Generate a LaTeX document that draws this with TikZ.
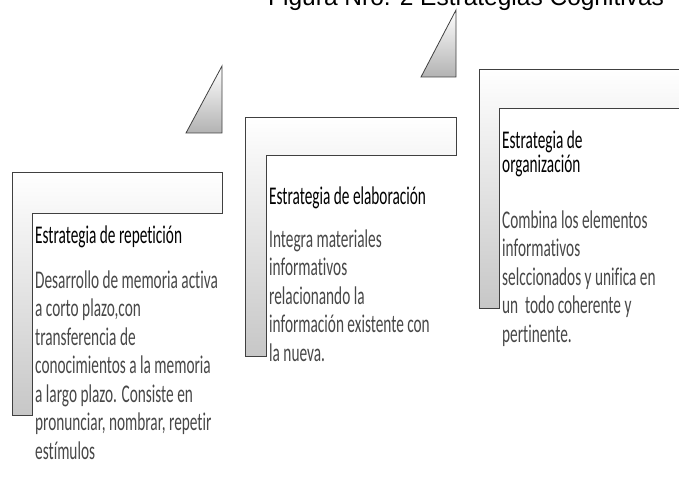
\documentclass[tikz,border=0pt]{standalone}
\usepackage{fontspec}
\newfontfamily\boxfont{Carlito}[FakeStretch=0.6,Ligatures=NoCommon]
\newfontfamily\titlefont{Liberation Sans}
\usetikzlibrary{calc}
\tikzset{
  bendbar/.style={draw=black!75, line width=0.8pt,
    top color=white, bottom color=black!22},
  wedge/.style={draw=black!75, line width=0.8pt,
    top color=white, bottom color=black!30},
  headtext/.style={anchor=base west, inner sep=0pt, align=left,
    font=\boxfont\fontsize{25.5}{23.5}\selectfont, text=black},
  bodytext/.style={anchor=base west, inner sep=0pt, align=left,
    font=\boxfont\fontsize{25.5}{28.5}\selectfont, text=black!72},
}
\begin{document}
\begin{tikzpicture}[x=1pt,y=-1pt]
\useasboundingbox (0,0) rectangle (679,481);
\clip (0,0) rectangle (679,481);
\node[anchor=base west, inner sep=0pt,
  font=\titlefont\fontsize{24.5}{28}\selectfont] (title)
  at (268,6) {Figura Nro. 2 Estrategias Cognitivas};
% repeticion (base = last line)
\path[bendbar]
  (12,172) -- (222,172) -- (222,213) -- (32,213) -- (32,415) -- (12,415) -- cycle;
\path[wedge]
  (186,133) -- (222,133) -- (222,66) -- cycle;
\node[headtext] (rephead) at (35,243) {Estrategia de repetición};
\node[bodytext] (repbody) at (35,459) {Desarrollo de memoria activa\\
  a corto plazo,con\\transferencia de\\conocimientos a la memoria\\
  a largo plazo. Consiste en\\pronunciar, nombrar, repetir\\estímulos};
% elaboracion
\path[bendbar]
  (245,117) -- (456,117) -- (456,155) -- (266,155) -- (266,356) -- (245,356) -- cycle;
\path[wedge]
  (421,77) -- (456,77) -- (456,10) -- cycle;
\node[headtext] (elahead) at (269,204) {Estrategia de elaboración};
\node[bodytext] (elabody) at (269,361) {Integra materiales\\informativos\\
  relacionando la\\información existente con\\la nueva.};
% organizacion
\path[bendbar]
  (479,69) -- (700,69) -- (700,108) -- (499,108) -- (499,308) -- (479,308) -- cycle;
\node[headtext] (orghead) at (502,172) {Estrategia de\\organización};
\node[bodytext] (orgbody) at (502,342) {Combina los elementos\\informativos\\
  selccionados y unifica en\\un\ \ todo coherente y\\pertinente.};
%\node [fill=red,inner sep=1pt] at (502,228) {};
\end{tikzpicture}
\end{document}
